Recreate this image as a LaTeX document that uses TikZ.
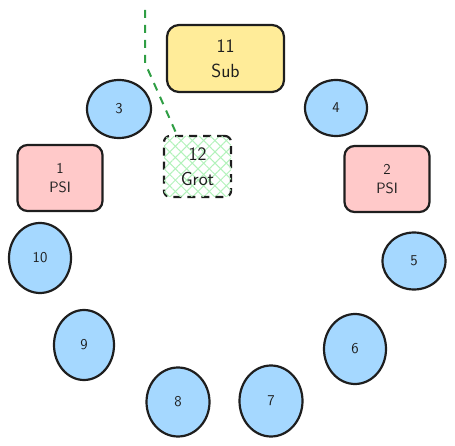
\documentclass[tikz,border=0pt]{standalone}
\usetikzlibrary{shapes.geometric,patterns.meta}
\definecolor{ink}{HTML}{1E1E1E}
\definecolor{blueF}{HTML}{A5D8FF}
\definecolor{pinkF}{HTML}{FFC9C9}
\definecolor{yellowF}{HTML}{FFEC99}
\definecolor{hatchG}{HTML}{B2F2BB}
\definecolor{lineG}{HTML}{2F9E44}
\tikzset{
  ball/.style={ellipse,draw=ink,fill=blueF,line width=2.2pt,inner sep=0pt,
    text=ink,font=\sffamily\fontsize{15}{19}\selectfont},
  psibox/.style={draw=ink,fill=pinkF,line width=2.2pt,rounded corners=10pt,
    minimum width=85pt,minimum height=66pt,align=center,text=ink,
    font=\sffamily\fontsize{15}{19}\selectfont},
  subbox/.style={draw=ink,fill=yellowF,line width=2.2pt,rounded corners=12pt,
    minimum width=117pt,minimum height=67pt,align=center,text=ink,
    font=\sffamily\fontsize{19}{25}\selectfont},
  grotbox/.style={draw=ink,line width=2.2pt,dash pattern=on 8pt off 6pt,rounded corners=6pt,
    minimum width=67pt,minimum height=61pt,align=center,text=ink,
    font=\sffamily\fontsize{19}{25}\selectfont,
    preaction={pattern={Lines[angle=45,distance=8pt,line width=1pt]},pattern color=hatchG},
    postaction={pattern={Lines[angle=-45,distance=8pt,line width=1pt]},pattern color=hatchG}},
  link/.style={draw=lineG,line width=2pt,dash pattern=on 8pt off 7pt}
}
\begin{document}
\begin{tikzpicture}[x=1pt,y=-1pt]
  \useasboundingbox (0,0) rectangle (455,446);
  \node[subbox] (n11) at (225.5,58.5) {11\\Sub};
  \node[grotbox] (n12) at (197.5,166.5) {12\\Grot};
  \node[psibox] (n1) at (60,178) {1\\PSI};
  \node[psibox] (n2) at (387,179) {2\\PSI};
  \node[ball,minimum width=64pt,minimum height=58pt] (n3) at (119,109) {3};
  \node[ball,minimum width=62pt,minimum height=56pt] (n4) at (336,108) {4};
  \node[ball,minimum width=63pt,minimum height=57pt] (n5) at (414,261) {5};
  \node[ball,minimum width=62pt,minimum height=70pt] (n6) at (355,349) {6};
  \node[ball,minimum width=63pt,minimum height=71pt] (n7) at (271,401) {7};
  \node[ball,minimum width=63pt,minimum height=69pt] (n8) at (178,402) {8};
  \node[ball,minimum width=60pt,minimum height=70pt] (n9) at (84,345) {9};
  \node[ball,minimum width=62pt,minimum height=70pt] (n10) at (40,258) {10};
  \coordinate (top) at (145,10);
  \coordinate (knee) at (145,63);
  \draw[link] (top) -- (knee) -- ([xshift=14pt]n12.north west);
\end{tikzpicture}
\end{document}
